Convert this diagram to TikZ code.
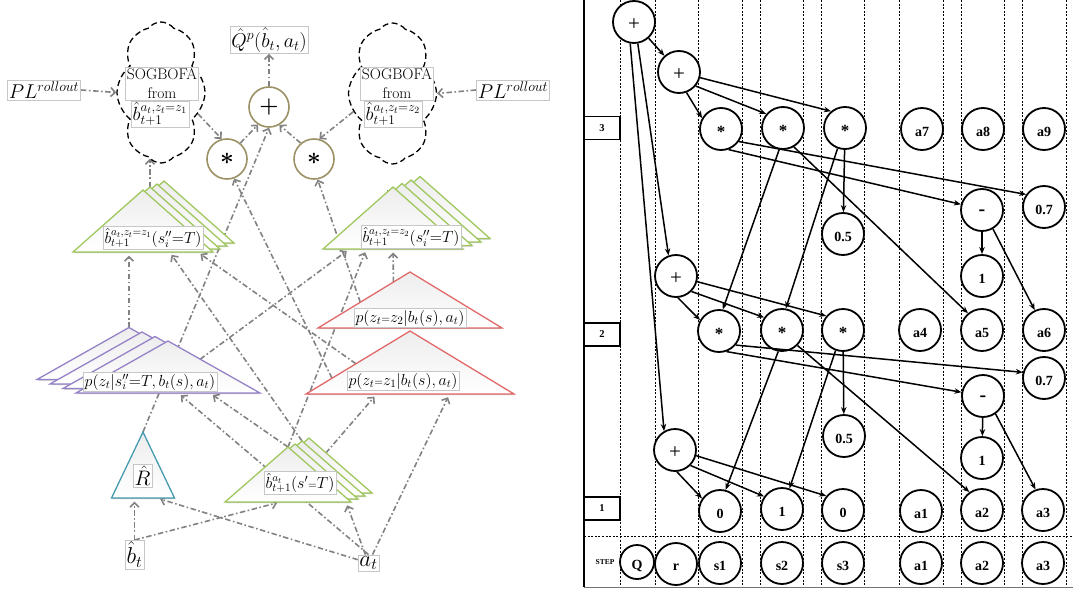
\RequirePackage{fix-cm}
\documentclass[tikz,border=0pt]{standalone}
\usepackage{fontspec}
\newfontfamily\tnr{Liberation Serif}
\usetikzlibrary{arrows.meta,calc,shapes.symbols,shadows}
\pgfdeclarelayer{back}
\pgfsetlayers{back,main}

\definecolor{flowgray}{RGB}{130,130,130}
\definecolor{greenT}{RGB}{160,200,95}
\definecolor{purpT}{RGB}{150,130,200}
\definecolor{redT}{RGB}{225,105,105}
\definecolor{tealT}{RGB}{70,155,175}
\definecolor{oliveC}{RGB}{155,145,100}

% triangle given by apex (x,y), half base width and height
\newcommand\trishape[6]{%
  \coordinate (#1-a) at ({#2},{#3});
  \coordinate (#1-l) at ({#2-(#4)},{#3+#5});
  \coordinate (#1-r) at ({#2+#4},{#3+#5});
  \path[tri,draw=#6] (#1-a) -- (#1-r) -- (#1-l) -- cycle;}
% lower a circle label a little below the centre
\newcommand\lowr[1]{\raisebox{-3pt}[\height][0pt]{#1}}
% bold math symbol kept inside its own group
\newcommand\bsym[1]{{\boldmath$#1$}}

\begin{document}
\begin{tikzpicture}[x=1pt,y=-1pt,
  flow/.style={draw=flowgray, line width=1.6pt,
    dash pattern=on 5.5pt off 2.5pt on 1.6pt off 2.5pt,
    -{Straight Barb[length=4.5pt,width=9pt]}},
  flowb/.style={flow, shorten >=3.5pt},
  box/.style={fill=white, draw=black!22, line width=0.5pt, inner sep=1.5pt},
  tri/.style={line width=1.3pt, top color=black!7, bottom color=white,
    drop shadow={shadow xshift=0.6pt, shadow yshift=-1.2pt, opacity=0.25, fill=black}},
  opc/.style={circle, draw=oliveC, line width=1.6pt, fill=white,
    minimum size=40pt, inner sep=0pt},
  cloudsty/.style={cloud, draw=black, line width=1.3pt, dash pattern=on 6pt off 3.5pt,
    cloud puffs=8, cloud puff arc=105, cloud ignores aspect,
    minimum width=88pt, minimum height=141pt, inner sep=0pt},
  mlab/.style={box, font=\fontsize{16}{18}\selectfont},
  rc/.style={circle, draw, line width=1.8pt, fill=white, minimum size=42pt,
    inner sep=0pt, font=\tnr\bfseries\fontsize{14}{14}\selectfont},
  rcs/.style={rc, minimum size=34pt},
  plusc/.style={rc, font=\tnr\fontsize{21}{21}\selectfont},
  starc/.style={rc, font=\tnr\bfseries\fontsize{17}{17}\selectfont},
  minusc/.style={rc, font=\tnr\bfseries\fontsize{20}{20}\selectfont},
  redge/.style={line width=1.5pt, -{Stealth[length=7pt,width=5.5pt]}},
  gridl/.style={line width=0.6pt, dash pattern=on 2pt off 1.6pt},
  stepbox/.style={draw, line width=1.4pt, fill=white, minimum width=36pt,
    minimum height=23pt, inner sep=0pt, font=\tnr\bfseries\fontsize{10.5}{10.5}\selectfont}]

\useasboundingbox (0,0) rectangle (1073,594);

% ===================== belief network =====================
% stacked triangles: copies behind first, front copy last
\foreach \k in {3,2,1} {\trishape{gz1b\k}{143+7*\k}{190-3*\k}{70}{62}{greenT}}
\trishape{gz1}{143}{190}{70}{62}{greenT}
\foreach \k in {3,2,1} {\trishape{gz2b\k}{393+9*\k}{187-3.5*\k}{70}{62}{greenT}}
\trishape{gz2}{393}{187}{70}{62}{greenT}
\foreach \k in {3,2,1} {\trishape{pub\k}{168-13*\k}{341-4.5*\k}{92}{52}{purpT}}
\trishape{pu}{168}{341}{92}{52}{purpT}
\foreach \k in {3,2,1} {\trishape{gbb\k}{288+7*\k}{447-3*\k}{63}{55}{greenT}}
\trishape{gb}{288}{447}{63}{55}{greenT}
\trishape{rz2}{410}{272}{92}{56}{redT}
\trishape{rz1}{410}{331}{104}{63}{redT}
\trishape{Rt}{143}{432}{31.5}{66}{tealT}

% labels of the triangles
\node[mlab] (gz1t) at (153,238) {$\hat b^{a_t,z_t=z_1}_{t+1}(s''_i{=}T)$};
\node[mlab] (gz2t) at (411,237) {$\hat b^{a_t,z_t=z_2}_{t+1}(s''_i{=}T)$};
\node[mlab] (put) at (150,382) {$p(z_t|s''_i{=}T,b_t(s),a_t)$};
\node[mlab] (rz2t) at (410,318) {$p(z_t{\scriptstyle=}z_2|b_t(s),a_t)$};
\node[mlab] (rz1t) at (403,381) {$p(z_t{\scriptstyle=}z_1|b_t(s),a_t)$};
\node[mlab] (gbt) at (300,483) {$\hat b^{a_t}_{t+1}(s'{\scriptstyle=}T)$};
\node[box, font=\fontsize{21}{23}\selectfont] (Rh) at (142.5,475.5) {$\hat R$};
\node[box, font=\fontsize{23}{25}\selectfont] (bt) at (134.5,554.5) {$\hat b_t$};
\node[box, font=\fontsize{23}{25}\selectfont] (at) at (368.5,563) {$a_t$};

% rollout clouds
\node[cloudsty] (cloud1) at (161,92.5) {};
\node[cloudsty] (cloud2) at (392.5,93.5) {};
\node[box, align=center, font=\fontsize{15.5}{19}\selectfont] (c1t) at (162,84) {SOGBOFA\\from};
\node[box, font=\fontsize{19}{21}\selectfont] (c1b) at (160,114) {$\hat b^{a_t,z_t=z_1}_{t+1}$};
\node[box, align=center, font=\fontsize{15.5}{19}\selectfont] (c2t) at (397,84) {SOGBOFA\\from};
\node[box, font=\fontsize{19}{21}\selectfont] (c2b) at (393,114) {$\hat b^{a_t,z_t=z_2}_{t+1}$};
\coordinate (c1bot) at ($(cloud1.south)+(0,-5)$);
\coordinate (c2bot) at ($(cloud2.south)+(0,-5)$);

\node[box, font=\fontsize{20}{22}\selectfont] (PLl) at (44,90) {$PL^{rollout}$};
\node[box, font=\fontsize{20}{22}\selectfont] (PLr) at (513,90) {$PL^{rollout}$};
\node[box, font=\fontsize{20}{22}\selectfont] (Qh) at (269,40) {$\hat Q^p(\hat b_t,a_t)$};

% arithmetic nodes
\node[opc, font=\fontsize{22}{22}\selectfont] (plus) at (269,107) {\bsym{+}};
\node[opc, font=\fontsize{24}{24}\selectfont] (starL) at (227,159) {\bsym{\ast}};
\node[opc, font=\fontsize{24}{24}\selectfont] (starR) at (314,159) {\bsym{\ast}};

\begin{pgfonlayer}{back}
\draw[flow] (PLl.east) -- (cloud1.west);
\draw[flow] (PLr.west) -- (cloud2.east);
\draw[flow] (plus.north) -- (Qh.south);
\draw[flow] (starL.50) -- (plus.238);
\draw[flow] (starR.130) -- (plus.300);
\draw[flow] (Rt-a) -- (plus.270);
\draw[flow] (cloud1.-30) -- (starL.105);
\draw[flow] (cloud2.205) -- (starR.75);
\draw[flow] ($(rz1-l)!0.25!(rz1-a)$) -- (starL.-70);
\draw[flow] ($(rz2-l)!0.46!(rz2-a)$) -- (starR.-80);
\draw[flow] (gz1b1-a) -- (gz1b1-a |- c1bot);
\draw[flow] ($(gz2-l)!0.92!(gz2-a)$) -- ($(gz2-l)!0.92!(gz2-a)$ |- c2bot);
% into the posterior beliefs
\draw[flowb] (pub3-a) -- (pub3-a |- gz1-l);
\draw[flowb] (gbb2-a) -- ($(gz1-l)!0.69!(gz1-r)$);
\draw[flowb] ($(rz1-l)!0.48!(rz1-a)$) -- ($(gz1-l)!0.89!(gz1-r)$);
\draw[flowb] ($(pu-a)!0.35!(pu-r)$) -- ($(gz2-l)!0.19!(gz2-r)$);
\draw[flowb] (gb-a) -- ($(gz2-l)!0.31!(gz2-r)$);
\draw[flowb] ($(rz2-l)!0.82!(rz2-a)$) -- ($(gz2-l)!0.5!(gz2-r)$);
% into the observation models
\draw[flowb] (at.north) -- ($(pu-l)!0.555!(pu-r)$);
\draw[flowb] (gb-a) -- ($(pu-l)!0.728!(pu-r)$);
\draw[flowb] (gbt) -- ($(rz1-l)!0.34!(rz1-r)$);
\draw[flowb] (at) -- ($(rz1-l)!0.69!(rz1-r)$);
% from the current belief and the action
\draw[flowb] (bt.north) -- (bt.north |- Rt-l);
\draw[flowb] (bt.north) -- ($(gb-l)!0.44!(gb-r)$);
\draw[flowb] (at) -- ($(Rt-l)!0.72!(Rt-r)$);
\draw[flowb] (at) -- ($(gb-l)!0.96!(gb-r)$);
\end{pgfonlayer}

% ===================== computation graph =====================
\begin{pgfonlayer}{back}
\foreach \gx in {620,655,698,742,760,803,821,864,899,943,961,1004,1022,1066}
  \draw[gridl] (\gx,0) -- (\gx,587);
\draw[gridl] (584,536) -- (1073,536);
\draw[line width=1.2pt] (584,0) -- (584,587);
\draw[line width=1.3pt, black!55] (584,587.5) -- (1073,587.5);
\end{pgfonlayer}

\node[stepbox] (L3) at (602,128) {3};
\node[stepbox] (L2) at (602,334.5) {2};
\node[stepbox] (L1) at (602,508.5) {1};
\node[font=\tnr\bfseries\fontsize{7.5}{8}\selectfont, inner sep=0pt] (steplbl) at (605,562) {STEP};

% step 3
\node[plusc] (P3) at (634,22) {\lowr{+}};
\node[plusc] (P3b) at (679,72) {\lowr{+}};
\node[starc] (S31) at (721,129) {\lowr{*}};
\node[starc] (S32) at (783,128) {\lowr{*}};
\node[starc] (S33) at (845,128) {\lowr{*}};
\node[rc] (A7) at (922,129) {\lowr{a7}};
\node[rc] (A8) at (983,129) {\lowr{a8}};
\node[rc] (A9) at (1044,129) {\lowr{a9}};
\node[rc] (H07u) at (1044,207) {\lowr{0.7}};
\node[minusc] (Mu) at (982,210) {\lowr{-}};
\node[rc] (H05u) at (843,234) {\lowr{0.5}};
\node[rc] (Oneu) at (982,276) {\lowr{1}};
% step 2
\node[plusc] (P2) at (676,276) {\lowr{+}};
\node[starc] (S21) at (719,331) {\lowr{*}};
\node[starc] (S22) at (782,330) {\lowr{*}};
\node[starc] (S23) at (843,330) {\lowr{*}};
\node[rc] (A4) at (920,330) {\lowr{a4}};
\node[rc] (A5) at (982,330) {\lowr{a5}};
\node[rc] (A6) at (1044,330) {\lowr{a6}};
\node[rc] (H07l) at (1044,378) {\lowr{0.7}};
\node[minusc] (Ml) at (983,396) {\lowr{-}};
\node[rc] (H05l) at (844,436) {\lowr{0.5}};
\node[rc] (Onel) at (982,458) {\lowr{1}};
% step 1
\node[plusc] (P1) at (675,450) {\lowr{+}};
\node[rc] (Z1) at (720,511) {\lowr{0}};
\node[rc] (O1) at (782,509) {\lowr{1}};
\node[rc] (Z2) at (843,510) {\lowr{0}};
\node[rc] (A1) at (921,511) {\lowr{a1}};
\node[rc] (A2) at (982,510) {\lowr{a2}};
\node[rc] (A3) at (1043,510) {\lowr{a3}};
% step row
\node[rcs] (Qc) at (637,562) {\lowr{Q}};
\node[rc] (Rc) at (676,564) {\lowr{r}};
\node[rc] (B1) at (720,563) {\lowr{s1}};
\node[rc] (B2) at (782,563) {\lowr{s2}};
\node[rc] (B3) at (843,563) {\lowr{s3}};
\node[rc] (B4) at (921,563) {\lowr{a1}};
\node[rc] (B5) at (982,563) {\lowr{a2}};
\node[rc] (B6) at (1043,563) {\lowr{a3}};

% edges
\draw[redge] (P3) -- (P3b);
\draw[redge] (P3.-100) -- (P1.120);
\draw[redge] (P3.-80) -- (P2.110);
\draw[redge] (P3b.-70) -- (S31.150);
\draw[redge] (P3b.-40) -- (S32.140);
\draw[redge] (P3b.-15) -- (S33.130);
\draw[redge] (S31.-35) -- (H07u.145);
\draw[redge] (S31.-70) -- (Mu.165);
\draw[redge] (S32.-100) -- (S21.80);
\draw[redge] (S32.-60) -- (A5.130);
\draw[redge] (S33.-110) -- (S22.80);
\draw[redge] (S33) -- (H05u);
\draw[redge] (Mu) -- (Oneu);
\draw[redge] (Mu.-60) -- (A6.115);
\draw[redge] (P2.-85) -- (S21.150);
\draw[redge] (P2.-45) -- (S22.145);
\draw[redge] (P2.-15) -- (S23.140);
\draw[redge] (S21.-40) -- (H07l.165);
\draw[redge] (S21.-70) -- (Ml.170);
\draw[redge] (S22.-100) -- (Z1.75);
\draw[redge] (S22.-45) -- (A2.125);
\draw[redge] (S23.-110) -- (O1.70);
\draw[redge] (S23) -- (H05l);
\draw[redge] (Ml) -- (Onel);
\draw[redge] (Ml.-55) -- (A3.110);
\draw[redge] (P1.-85) -- (Z1.145);
\draw[redge] (P1.-45) -- (O1.145);
\draw[redge] (P1.-15) -- (Z2.140);
\end{tikzpicture}
\end{document}
